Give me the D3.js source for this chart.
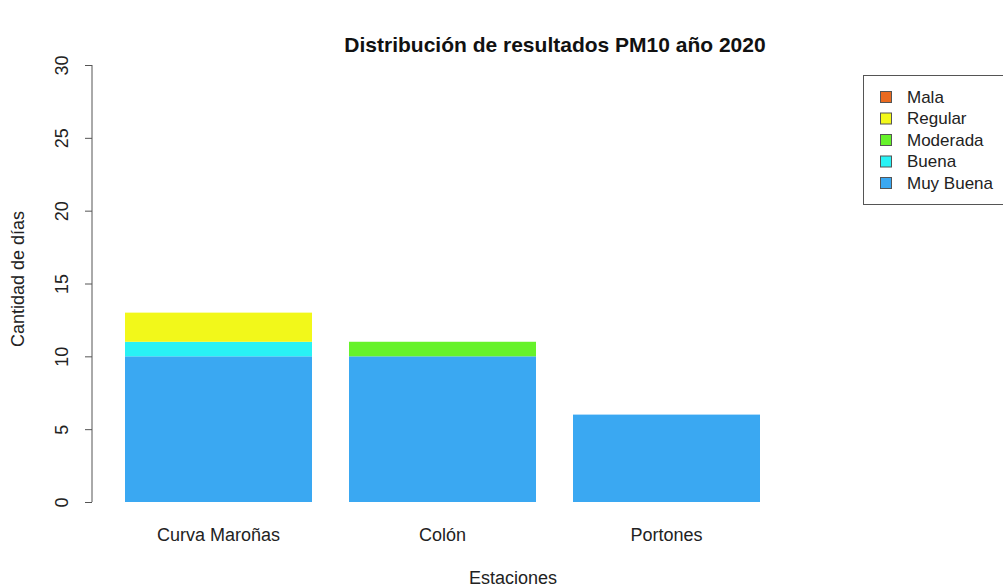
<!DOCTYPE html>
<html><head><meta charset="utf-8">
<script src="https://cdn.jsdelivr.net/npm/d3@7"></script>
<style>body{margin:0;background:#fff}svg{display:block;font-family:"Liberation Sans",Arial,sans-serif}</style>
</head><body><svg id="c" width="1003" height="587"></svg>
<script>
const stations = ["Curva Maroñas", "Colón", "Portones"];
const categories = ["Muy Buena", "Buena", "Moderada", "Regular", "Mala"];
const muyBuena = [10, 10, 6];
const buena = [1, 0, 0];
const moderada = [0, 1, 0];
const regular = [2, 0, 0];
const mala = [0, 0, 0];
const colors = ["#3aa8f2", "#29f2f5", "#66f22a", "#f2f81a", "#ea6a1f"];
const yTicks = [0, 5, 10, 15, 20, 25, 30];

const svg = d3.select("#c");
const rows = stations.map((s, i) => ({station: s, "Muy Buena": muyBuena[i], "Buena": buena[i], "Moderada": moderada[i], "Regular": regular[i], "Mala": mala[i]}));
const stack = d3.stack().keys(categories)(rows);

const x = d3.scaleBand().domain(stations).range([88, 797]).paddingInner(37/224).paddingOuter(37/224);
const y = d3.scaleLinear().domain([0, 30]).range([502, 65]);
const color = d3.scaleOrdinal().domain(categories).range(colors);

svg.selectAll("g.layer").data(stack).join("g").attr("fill", d => color(d.key))
  .selectAll("rect").data(d => d.map((v, i) => ({v, s: stations[i]}))).join("rect")
  .attr("x", d => x(d.s)).attr("width", x.bandwidth())
  .attr("y", d => y(d.v[1])).attr("height", d => y(d.v[0]) - y(d.v[1]));

const ya = svg.append("g").attr("transform", "translate(92,0)")
  .call(d3.axisLeft(y).tickValues(yTicks).tickSize(7).tickPadding(14));
ya.select(".domain").attr("stroke", "#555").attr("d", "M0," + y(0) + "V" + y(30));
ya.selectAll(".tick line").attr("stroke", "#555");
ya.selectAll(".tick text").attr("font-size", 18).attr("fill", "#222")
  .attr("text-anchor", "middle").attr("x", 0).attr("y", null).attr("dy", "0.35em")
  .attr("transform", "translate(-30,0) rotate(-90)");

const xa = svg.append("g").attr("transform", "translate(0,502)")
  .call(d3.axisBottom(x).tickSize(0).tickPadding(26));
xa.select(".domain").remove();
xa.selectAll(".tick text").attr("font-size", 18).attr("fill", "#222");

svg.append("text").attr("x", 555).attr("y", 52).attr("text-anchor", "middle")
  .attr("font-size", 21).attr("font-weight", "bold").attr("fill", "#111")
  .text("Distribución de resultados PM10 año 2020");
svg.append("text").attr("x", 513).attr("y", 584).attr("text-anchor", "middle")
  .attr("font-size", 18).attr("fill", "#222").text("Estaciones");
svg.append("text").attr("transform", "translate(24,279) rotate(-90)").attr("text-anchor", "middle")
  .attr("font-size", 18).attr("fill", "#222").text("Cantidad de días");

const lg = svg.append("g");
lg.append("rect").attr("x", 863.5).attr("y", 75.5).attr("width", 150).attr("height", 129)
  .attr("fill", "none").attr("stroke", "#555");
const legendOrder = categories.slice().reverse();
legendOrder.forEach((k, i) => {
  const yy = 97 + i * 21.5;
  lg.append("rect").attr("x", 880.5).attr("y", yy - 5.5).attr("width", 11).attr("height", 11)
    .attr("fill", color(k)).attr("stroke", "#555");
  lg.append("text").attr("x", 907).attr("y", yy).attr("dy", "0.35em").attr("font-size", 17)
    .attr("fill", "#222").text(k);
});
</script></body></html>
